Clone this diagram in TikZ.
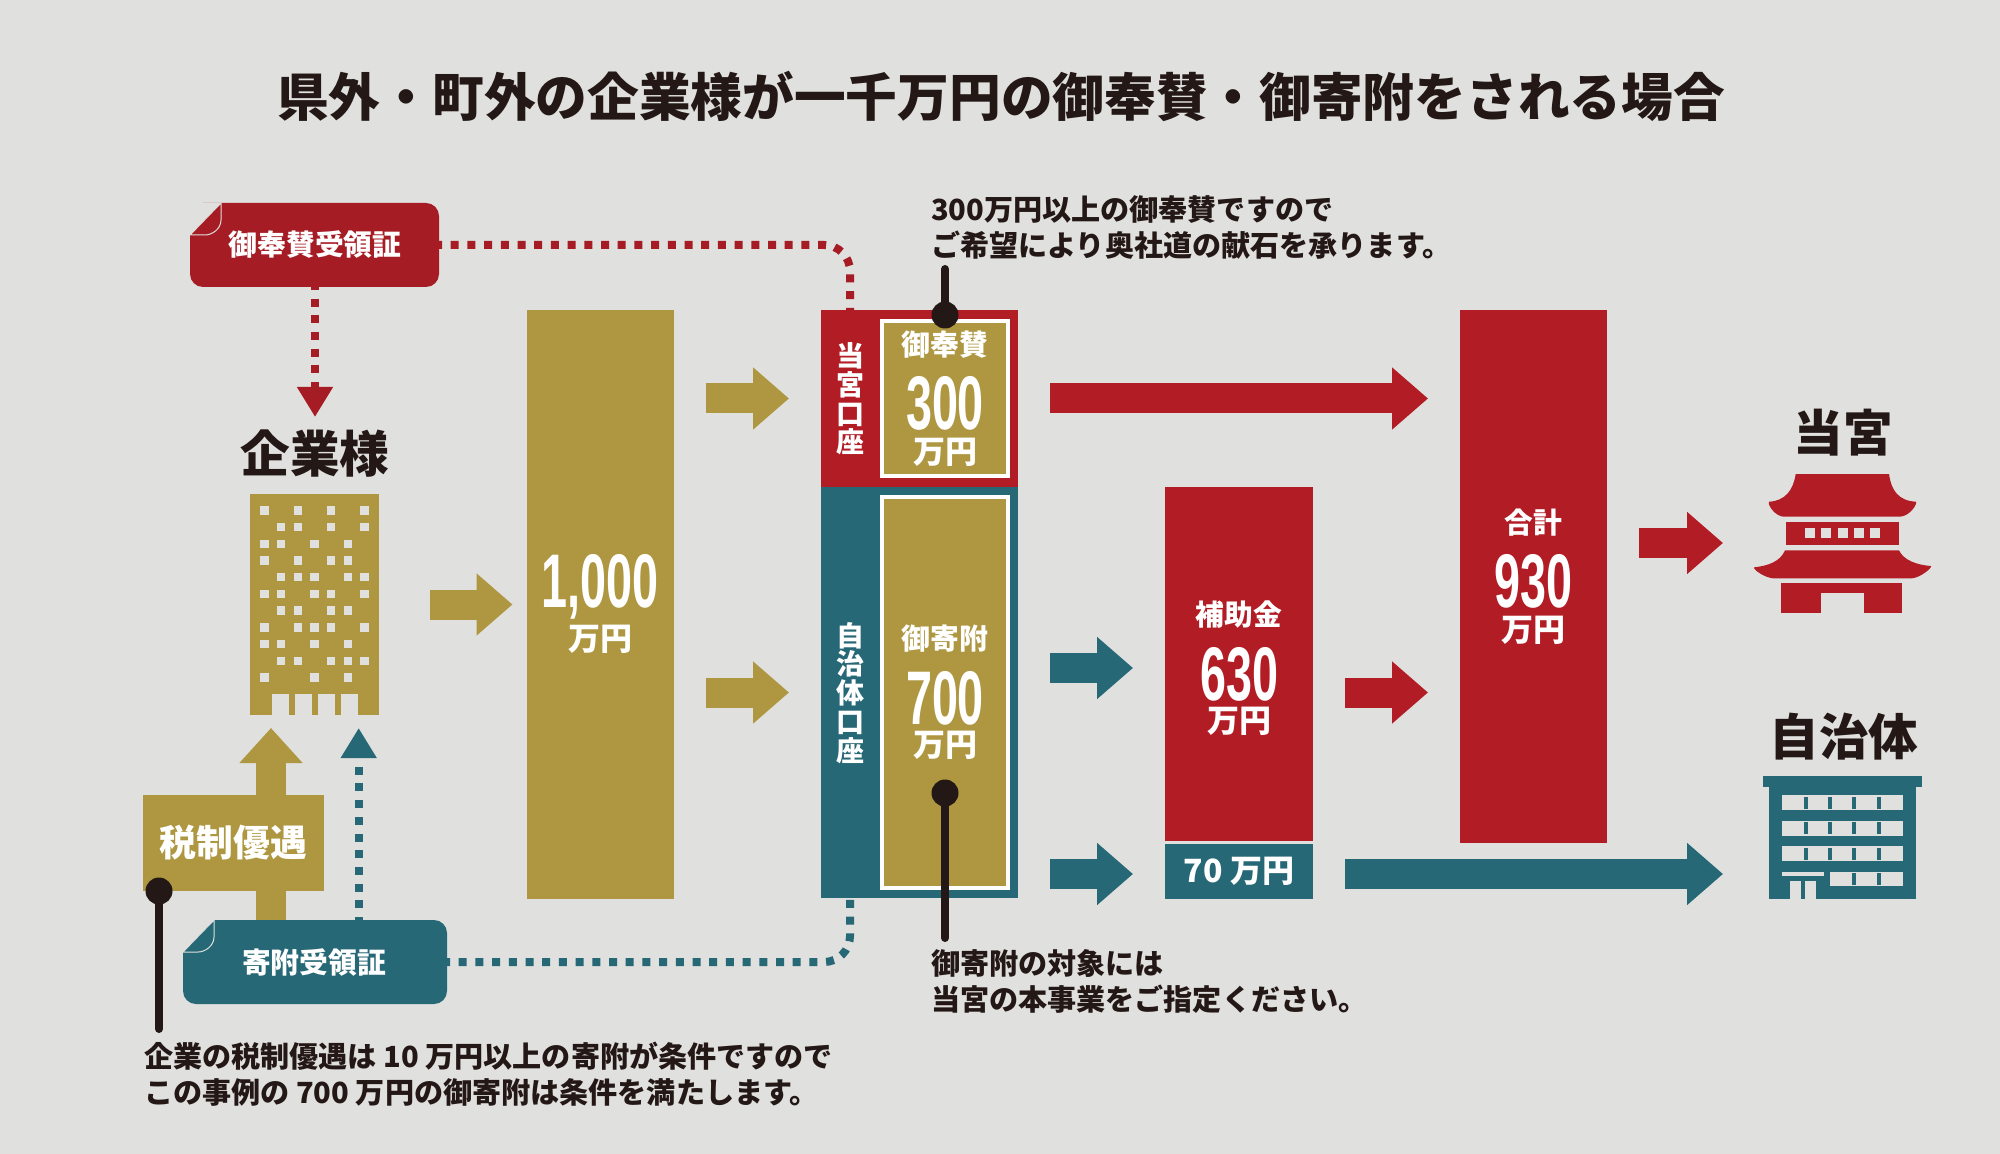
\documentclass[tikz,border=0pt]{standalone}
\usepackage{fontspec}
\setmainfont{Noto Sans CJK JP}
\newfontfamily\numfont[FakeStretch=0.615]{Liberation Sans}
\usetikzlibrary{arrows.meta}
\definecolor{bg}{HTML}{E0E0DE}
\definecolor{gold}{HTML}{AE9740}
\definecolor{miyared}{HTML}{B21C25}
\definecolor{docred}{HTML}{A61C25}
\definecolor{teal}{HTML}{266876}
\definecolor{ink}{HTML}{231815}
\tikzset{
  blk/.style={inner sep=0pt,outer sep=0pt},
  arw/.style={line width=15pt,-{Triangle[length=18pt,width=30pt]}},
  gap/.style={shorten <=16pt,shorten >=16pt},
  dotline/.style={line width=4pt,dash pattern=on 4pt off 4.35pt,dash phase=2.5pt},
  tip/.style={-{Triangle[length=15pt,width=17pt,sep=4pt]}},
  docbox/.style={blk,rounded corners=6.5pt,minimum height=42pt},
  capt/.style={blk,anchor=west,align=left,text=ink,font=\fontsize{14.55}{18}\selectfont\bfseries},
  head/.style={blk,text=ink,font=\fontsize{24.8}{27}\selectfont\bfseries},
  lbl/.style={blk,text=white,font=\fontsize{14.4}{16}\selectfont\bfseries},
  man/.style={blk,text=white,font=\fontsize{16}{17}\selectfont\bfseries},
  num/.style={blk,text=white,font=\numfont\bfseries\fontsize{38}{40}\selectfont},
  vert/.style={blk,text=white,align=center,font=\fontsize{14}{14.4}\selectfont\bfseries},
  pin/.style={ink,line width=4pt,line cap=round}
}
\begin{document}
\begin{tikzpicture}[x=0.5pt,y=-0.5pt]
\fill[bg] (0,0) rectangle (2000,1154);
\useasboundingbox (0,0) rectangle (2000,1154);
\node[blk,text=ink,font=\fontsize{25.85}{28}\selectfont\bfseries] (title) at (1001,96) {県外・町外の企業様が一千万円の御奉賛・御寄附をされる場合};
% free ends
\coordinate (redin) at (850,310);
\coordinate (tealin) at (850,898);
\coordinate (redhead) at (315,425);
\coordinate (zeitop) at (271,728);
\coordinate (tealhead) at (358.7,720);
\coordinate (rowa) at (0,668);
\coordinate (rowb) at (0,874);
\coordinate (miyain) at (1755,543);
\coordinate (jichiin) at (1755,874);
% company
\node[head] (kigyo) at (315,454) {企業様};
\node[blk,fill=gold,minimum width=64.5pt,minimum height=110.5pt] (bldg) at (314.5,604.5) {};
\foreach \r/\cols in {0/{1,3,5,7},1/{2,3,5,7},2/{1,2,4,6},3/{1,3,5,6},4/{2,3,4,6,7},5/{1,2,4,5,7},
  6/{2,3,5,6},7/{1,3,4,5,7},8/{1,2,4,6},9/{2,3,5,6,7},10/{1,4,6}}
  \foreach \c in \cols
    \fill[bg] ({264.3+16.7*(\c-1)-4.2},{510.4+16.7*\r-4.2}) rectangle +(8.4,8.4);
\foreach \c in {272,295,318,341}
  \fill[bg] (\c,694) rectangle (\c+16.7,715.5);
% certificates and dotted lines
\node[docbox,fill=docred,minimum width=124.5pt] (docred) at (314.5,245) {};
\node[docbox,fill=teal,minimum width=132pt] (docteal) at (315,962) {};
\draw[arw,gold,-{Triangle[length=17.5pt,width=30.5pt]}] (docteal.north -| zeitop) -- (zeitop);
\draw[dotline,docred,rounded corners=13pt] (docred.east) -| (redin);
\draw[dotline,docred,tip] (docred.south -| redhead) -- (redhead);
\draw[dotline,teal,rounded corners=13pt] (docteal.east) -| (tealin);
\draw[dotline,teal,tip] (docteal.north -| tealhead) -- (tealhead);
\foreach \dname/\dcol in {docred/docred,docteal/teal}{
  \fill[bg] (\dname.north west) -- ++(31,0) -- ++(-31,32) -- cycle;
  \filldraw[fill=\dcol,draw=bg,line width=.5pt] (\dname.north west) ++(0,32) -- ++(31,-32) -- ++(0,17)
    .. controls +(0,9) and +(7,0) .. ++(-16,15) -- cycle;
}
\node[lbl] (docredt) at (315,245) {御奉賛受領証};
\node[lbl] (doctealt) at (314,962) {寄附受領証};
% tax box
\node[blk,fill=gold,minimum width=90.7pt,minimum height=48pt] (zeisei) at (233.4,843) {};
\node[blk,text=white,font=\fontsize{18.4}{20}\selectfont\bfseries] (zeiseit) at (233.4,843) {税制優遇};
% thousand
\node[blk,fill=gold,minimum width=73.5pt,minimum height=294.5pt] (sen) at (600,604.5) {};
\node[num] (sennum) at (600,587) {1,000};
\node[man] (senman) at (600,639) {万円};
% accounts
\node[blk,fill=miyared,minimum width=98.5pt,minimum height=88.5pt] (kouzared) at (919.5,398.5) {};
\node[blk,fill=teal,minimum width=98.5pt,minimum height=205.5pt] (kouzateal) at (919.5,692.5) {};
\node[blk,fill=gold,draw=white,line width=2.2pt,minimum width=62.8pt,minimum height=77.3pt] (hosan) at (945,398.5) {};
\node[blk,fill=gold,draw=white,line width=2.2pt,minimum width=62.8pt,minimum height=195.3pt] (kifu) at (945,692.5) {};
\node[vert] (kouzaredt) at (850,399) {当\\宮\\口\\座};
\node[vert] (kouzatealt) at (850,693) {自\\治\\体\\口\\座};
\node[lbl] (hosant) at (945,345) {御奉賛};
\node[num] (hosann) at (945,403) {300};
\node[man] (hosanm) at (945,452) {万円};
\node[lbl] (kifut) at (945,639) {御寄附};
\node[num] (kifun) at (945,698) {700};
\node[man] (kifum) at (945,745) {万円};
% subsidy and total
\node[blk,fill=miyared,minimum width=74pt,minimum height=177pt] (hojo) at (1239,664) {};
\node[blk,fill=teal,minimum width=74pt,minimum height=27.5pt] (nana) at (1239,871.5) {};
\node[blk,fill=miyared,minimum width=73.5pt,minimum height=266.5pt] (goukei) at (1533.5,576.5) {};
\node[lbl] (hojot) at (1239,615) {補助金};
\node[num] (hojon) at (1239,674) {630};
\node[man] (hojom) at (1239,721) {万円};
\node[man] (nanat) at (1239,871) {70 万円};
\node[lbl] (goukeit) at (1533,523) {合計};
\node[num] (goukein) at (1533,581) {930};
\node[man] (goukeim) at (1533,630) {万円};
% block arrows
\draw[arw,gold,shorten <=25.5pt,shorten >=7pt] (bldg.east) -- (bldg.east -| sen.west);
\draw[arw,gold,gap] (sen.east |- kouzared) -- (kouzared.west);
\draw[arw,gold,gap] (sen.east |- kouzateal) -- (kouzateal.west);
\draw[arw,miyared,gap] (kouzared.east) -- (kouzared.east -| goukei.west);
\draw[arw,teal,gap] (kouzateal.east |- rowa) -- (hojo.west |- rowa);
\draw[arw,teal,gap] (kouzateal.east |- rowb) -- (nana.west |- rowb);
\draw[arw,miyared,gap] (hojo.east |- kouzateal) -- (goukei.west |- kouzateal);
\draw[arw,teal,gap] (nana.east |- rowb) -- (jichiin);
\draw[arw,miyared,gap] (goukei.east |- miyain) -- (miyain);
% heads
\node[head] (miya) at (1843,433) {当宮};
\node[head] (jichi) at (1844,737) {自治体};
% shrine
\begin{scope}[shift={(1730,400)},x=0.1667pt,y=-0.1667pt]
\fill[miyared] (197,222) -- (477,222) .. controls (483,270) and (505,303) .. (558,305)
  .. controls (562,312) and (540,348) .. (510,350) -- (160,350)
  .. controls (135,348) and (112,315) .. (117,305) .. controls (165,303) and (190,270) .. (197,222) -- cycle;
\fill[miyared] (167,365) rectangle (507,435);
\foreach \w in {225,274,323,371,420}
  \fill[bg] (\w,385) rectangle +(30,30);
\fill[miyared] (165,451) -- (507,451) .. controls (520,480) and (560,495) .. (603,498)
  .. controls (605,505) and (570,533) .. (545,535) -- (130,535)
  .. controls (105,533) and (70,510) .. (72,502) .. controls (115,497) and (150,485) .. (165,451) -- cycle;
\fill[miyared] (154,549) rectangle (517,638);
\fill[bg] (274,579) rectangle (401,638.5);
\end{scope}
% town hall
\begin{scope}[shift={(1730,700)},x=0.1667pt,y=-0.1667pt]
\fill[teal] (98,229) rectangle (576,262);
\fill[teal] (117,262) rectangle (558,596);
\foreach \f in {286,362,439}{
  \fill[bg] (156,\f) rectangle (519,\f+45);
  \foreach \m in {222,295,367,440}
    \fill[teal] (\m,\f+4) rectangle +(12,37);
}
\fill[bg] (301,516) rectangle (519,559);
\foreach \m in {367,440}
  \fill[teal] (\m,520) rectangle +(12,35);
\fill[bg] (156,516) rectangle (283,527);
\fill[bg] (181,543) rectangle (257,596.5);
\fill[teal] (212,543) rectangle (226,597);
\end{scope}
% notes
\node[capt] (note1) at (931,227) {300万円以上の御奉賛ですので\\ご希望により奥社道の献石を承ります。};
\node[capt] (note2) at (931,981) {御寄附の対象には\\当宮の本事業をご指定ください。};
\node[capt] (note3) at (144,1074) {企業の税制優遇は 10 万円以上の寄附が条件ですので\\この事例の 700 万円の御寄附は条件を満たします。};
\coordinate (pin1) at (945,269);
\coordinate (pin2) at (945,938);
\coordinate (pin3) at (159,1029);
\node[blk,circle,fill=ink,minimum size=13.5pt] (dot1) at (945,315) {};
\node[blk,circle,fill=ink,minimum size=13.5pt] (dot2) at (945,793) {};
\node[blk,circle,fill=ink,minimum size=13.5pt] (dot3) at (159,891) {};
\draw[pin] (dot1) -- (pin1);
\draw[pin] (dot2) -- (pin2);
\draw[pin] (dot3) -- (pin3);
\end{tikzpicture}
\end{document}
